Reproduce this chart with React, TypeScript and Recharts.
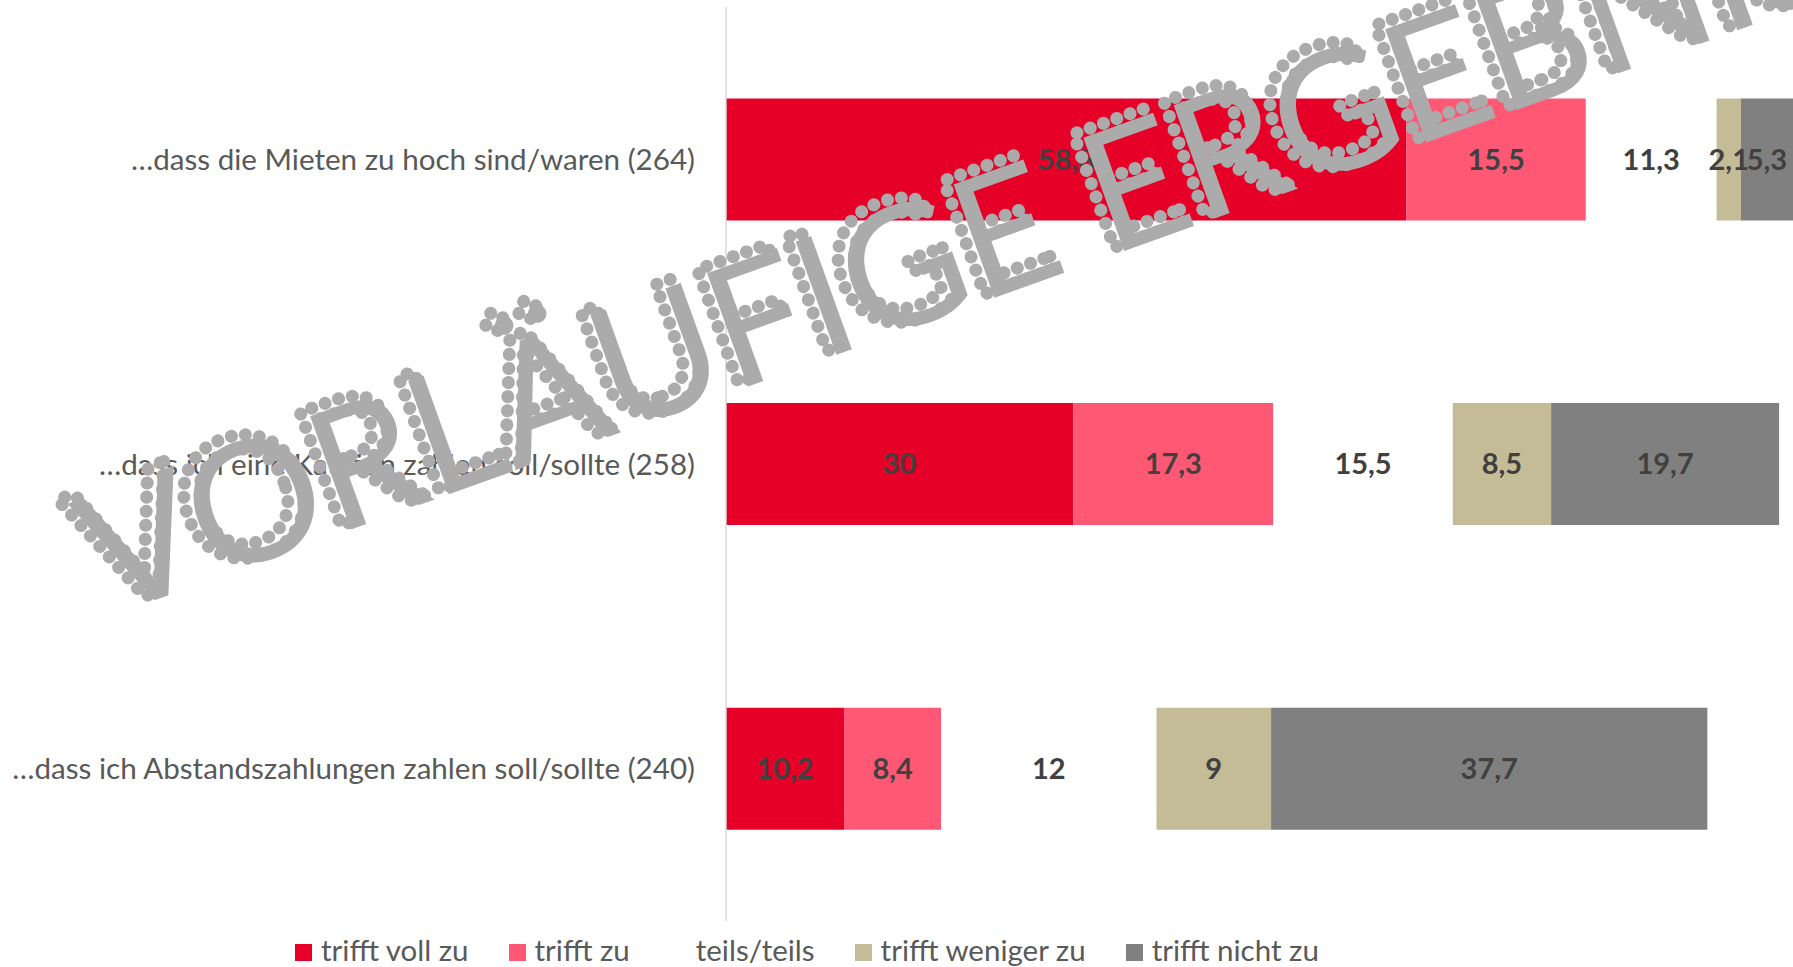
import { BarChart, Bar, XAxis, YAxis, LabelList, Legend } from "recharts";

const categories = [
  "…dass die Mieten zu hoch sind/waren (264)",
  "…dass ich eine Kaution zahlen soll/sollte (258)",
  "…dass ich Abstandszahlungen zahlen soll/sollte (240)",
];

const seriesNames = ["trifft voll zu", "trifft zu", "teils/teils", "trifft weniger zu", "trifft nicht zu"];
const seriesColors = ["#E60028", "#FF5875", "#FFFFFF", "#C4BC96", "#808080"];

// bar lengths as drawn
const vollZu = [58.8, 30, 10.2];
const triffZu = [15.5, 17.3, 8.4];
const teilsTeils = [11.3, 15.5, 18.6];
const wenigerZu = [2.1, 8.5, 9.9];
const nichtZu = [5.3, 19.7, 37.7];

// printed data labels
const vollZuLabels = ["58,8", "30", "10,2"];
const triffZuLabels = ["15,5", "17,3", "8,4"];
const teilsTeilsLabels = ["11,3", "15,5", "12"];
const wenigerZuLabels = ["2,1", "8,5", "9"];
const nichtZuLabels = ["5,3", "19,7", "37,7"];

const values = [vollZu, triffZu, teilsTeils, wenigerZu, nichtZu];
const labels = [vollZuLabels, triffZuLabels, teilsTeilsLabels, wenigerZuLabels, nichtZuLabels];

const data = categories.map((name, i) => {
  const row: Record<string, string | number> = { name };
  values.forEach((v, s) => {
    row["s" + s] = v[i];
    row["l" + s] = labels[s][i];
  });
  return row;
});

const FONT = "Lato, 'Open Sans', sans-serif";
const WATERMARK = "VORLÄUFIGE ERGEBNISSE";

function LegendContent() {
  return (
    <div
      style={{
        display: "flex",
        alignItems: "center",
        height: 36,
        lineHeight: "36px",
        fontFamily: FONT,
        fontSize: 29.5,
        color: "#595959",
        whiteSpace: "nowrap",
      }}
    >
      {seriesNames.map((n, i) => (
        <div key={n} style={{ display: "flex", alignItems: "center", marginRight: 40 }}>
          <span style={{ width: 17, height: 17, background: seriesColors[i], marginRight: 9, marginTop: 4 }} />
          <span>{n}</span>
        </div>
      ))}
    </div>
  );
}

export default function App() {
  return (
    <div style={{ position: "absolute", left: 0, top: 0, width: 1793, height: 967, overflow: "hidden", background: "#fff" }}>
      <BarChart
        width={1793}
        height={967}
        data={data}
        layout="vertical"
        margin={{ top: 7, right: 0, bottom: 10, left: 0 }}
        barCategoryGap="30%"
      >
        <XAxis type="number" hide domain={[0, 92.2]} allowDataOverflow />
        <YAxis
          type="category"
          dataKey="name"
          width={726}
          axisLine={{ stroke: "#D9D9D9", strokeWidth: 1.5 }}
          tickLine={false}
          tickSize={0}
          tickMargin={31}
          tick={{ fill: "#595959", fontSize: 29.6, fontFamily: FONT }}
        />
        <Legend
          content={<LegendContent />}
          wrapperStyle={{ left: 295, top: 932, width: "auto", height: 36, bottom: "auto" }}
        />
        {seriesNames.map((n, s) => (
          <Bar key={n} dataKey={"s" + s} name={n} stackId="a" fill={seriesColors[s]} isAnimationActive={false}>
            <LabelList
              dataKey={"l" + s}
              position="center"
              fill="#404040"
              fontSize={29}
              fontWeight={700}
              fontFamily={FONT}
            />
          </Bar>
        ))}
      </BarChart>
      <svg
        width={1793}
        height={967}
        style={{ position: "absolute", left: 0, top: 0, pointerEvents: "none" }}
      >
        <g transform="translate(108,617) rotate(-19.8)" fontFamily={FONT} fontSize={168} fontWeight={400} letterSpacing={-1}>
          <text
            x={-8}
            y={-7}
            fill="none"
            stroke="#ABABAB"
            strokeWidth={13}
            strokeLinecap="round"
            strokeDasharray="0.1 14"
          >
            {WATERMARK}
          </text>
          <text x={0} y={0} fill="#ABABAB">{WATERMARK}</text>
        </g>
      </svg>
    </div>
  );
}
